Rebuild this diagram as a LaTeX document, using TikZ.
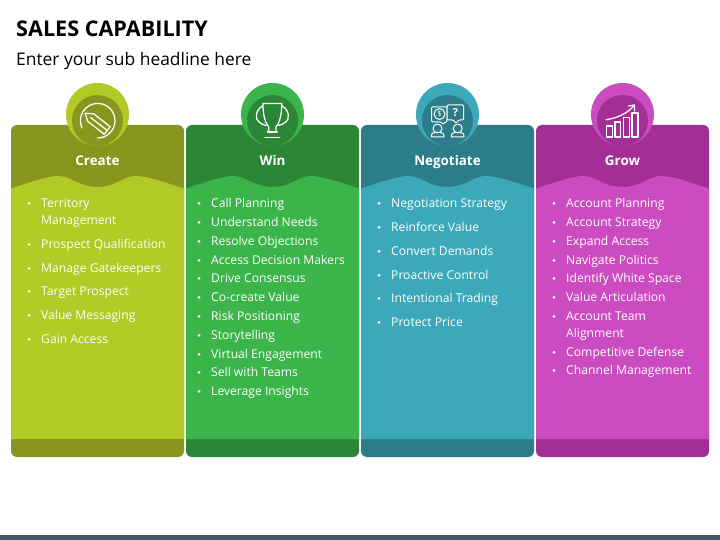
\documentclass[tikz,border=0pt]{standalone}
\usepackage{fontspec}
\setmainfont{Open Sans}
\definecolor{limeL}{HTML}{B2CA25}\definecolor{limeD}{HTML}{88961F}
\definecolor{greenL}{HTML}{3BB54A}\definecolor{greenD}{HTML}{2C8638}
\definecolor{tealL}{HTML}{3BA9BA}\definecolor{tealD}{HTML}{2D7C89}
\definecolor{magL}{HTML}{CB4BC0}\definecolor{magD}{HTML}{A32E96}
\definecolor{footbar}{HTML}{44546A}
\tikzset{
  itemtext/.style={anchor=base west,inner sep=0pt,text=white,font=\fontsize{12.15}{14}\selectfont},
  headtext/.style={anchor=base,inner sep=0pt,text=white,font=\fontsize{13.4}{16}\selectfont\bfseries},
  icon/.style={draw=white,line width=1.25pt,line join=round,line cap=round},
}
% #1 left x, #2 light, #3 dark, #4 heading, #5 name
\newcommand{\card}[5]{%
  \begin{scope}[xshift=#1pt]
    \begin{scope}
      \clip[rounded corners=6pt] (0,125) rectangle (173,457);
      \fill[#3] (-1,124) rectangle (175,458);
      \fill[#2] (-1,188.5) -- (0,188.5) .. controls (20,182) and (37,176) .. (47,176)
        .. controls (60,176) and (68,187) .. (86.5,187)
        .. controls (105,187) and (113,176) .. (124,176)
        .. controls (136,176) and (153,182) .. (173,188.5) -- (175,188.5) -- (175,439) -- (-1,439) -- cycle;
    \end{scope}
    \fill[#2] (86.5,114.5) circle[radius=31.5];
    \fill[#3] (86.5,120.5) circle[radius=25.5];
    \node[headtext] (#5head) at (86.5,166) {#4};
  \end{scope}}
\newcommand{\listitem}[4]{%
  \node[itemtext] at (#1+30,#2+.5) {#3};
  \ifnum#4=1 \fill[white] (#1+18,#2-3.7) circle[radius=1.5];\fi}
\begin{document}
\begin{tikzpicture}[x=1pt,y=-1pt]
\useasboundingbox (0,0) rectangle (720,540);
\fill[white] (0,0) rectangle (720,540);
\fill[footbar] (0,534.5) rectangle (720,540);
\node[anchor=base west,inner sep=0pt,font=\fontsize{21.6}{26}\selectfont\bfseries] (title) at (16,37) {SALES CAPABILITY};
\node[anchor=base west,inner sep=0pt,font=\fontsize{17.4}{20}\selectfont] (sub) at (16,66) {Enter your sub headline here};

\card{11}{limeL}{limeD}{Create}{create}
\card{186}{greenL}{greenD}{Win}{win}
\card{361}{tealL}{tealD}{Negotiate}{neg}
\card{536}{magL}{magD}{Grow}{grow}

\foreach \yy/\tx/\bu in {207/Territory/1,224/Management/0,248/Prospect Qualification/1,272/Manage Gatekeepers/1,295/Target Prospect/1,319/Value Messaging/1,343/Gain Access/1}
  {\listitem{11}{\yy}{\tx}{\bu}}
\foreach \yy/\tx in {207/Call Planning,226/Understand Needs,245/Resolve Objections,264/Access Decision Makers,282/Drive Consensus,301/Co-create Value,320/Risk Positioning,339/Storytelling,358/Virtual Engagement,376/Sell with Teams,395/Leverage Insights}
  {\listitem{181}{\yy}{\tx}{1}}
\foreach \yy/\tx in {207/Negotiation Strategy,231/Reinforce Value,255/Convert Demands,279/Proactive Control,302/Intentional Trading,326/Protect Price}
  {\listitem{361}{\yy}{\tx}{1}}
\foreach \yy/\tx/\bu in {207/Account Planning/1,226/Account Strategy/1,245/Expand Access/1,264/Navigate Politics/1,282/Identify White Space/1,301/Value Articulation/1,320/Account Team/1,337/Alignment/0,356/Competitive Defense/1,374/Channel Management/1}
  {\listitem{536}{\yy}{\tx}{\bu}}

% Pencil icon
\draw[icon] (97.7,138) arc[start angle=90,end angle=-205,radius=17.3];
\begin{scope}[icon,shift={(97,122.5)},rotate=-38]
  \draw (-15,0) -- (-8,-4.8) -- (13,-4.8) -- (13,4.8) -- (-8,4.8) -- cycle;
  \draw (-8,0) -- (13,0);
\end{scope}

% Trophy icon
\begin{scope}[icon]
  \draw (263,103.5) -- (281.7,103.5) .. controls (282,115) and (279,124) .. (276,127) -- (276,132) (263,103.5) .. controls (262.7,115) and (265.7,124) .. (268.7,127) -- (268.7,132);
  \draw (262.5,106) .. controls (255,110) and (255,120) .. (259,122) .. controls (261,124) and (264,125) .. (266,125.5);
  \draw (282.2,106) .. controls (289.7,110) and (289.7,120) .. (285.7,122) .. controls (283.7,124) and (280.7,125) .. (278.7,125.5);
  \draw (267.5,132) -- (277.2,132);
  \draw[line width=1.5pt] (265,137.7) -- (279.7,137.7);
\end{scope}

% Negotiate icon
\begin{scope}[icon,line width=1pt]
  \draw[rounded corners=1pt] (431.5,107) -- (431.5,122) -- (441,122) -- (443,124.5) -- (445,122) -- (447,122) -- (447,107) -- cycle;
  \draw[fill=tealD,rounded corners=1pt] (447,105) -- (463.5,105) -- (463.5,120) -- (459,120) -- (456,123) -- (453,120) -- (447,120) -- cycle;
  \draw (439.5,114) circle[radius=5.5];
  \node[inner sep=0pt,text=white,font=\fontsize{7.5}{8}\selectfont] (dollar) at (439.5,114) {\$};
  \node[inner sep=0pt,text=white,font=\fontsize{11}{11}\selectfont\bfseries] (quest) at (455.5,112.5) {?};
  \draw (437.5,128.5) circle[radius=4.5];
  \draw (431.5,137) .. controls (431,133) and (433.5,132.5) .. (435,132.5) -- (440,132.5) .. controls (441.5,132.5) and (444.5,133) .. (444,137) -- cycle;
  \draw (457.7,128.5) circle[radius=4.5];
  \draw (451.5,137) .. controls (451,133) and (453.5,132.5) .. (455,132.5) -- (460,132.5) .. controls (461.5,132.5) and (464.5,133) .. (464,137) -- cycle;
\end{scope}

% Grow icon
\begin{scope}[icon]
  \draw (606.7,126) rectangle (612.5,137);
  \draw (615,122) rectangle (620.7,137);
  \draw (623.5,117.5) rectangle (629.5,137);
  \draw (632,113) rectangle (638,137);
  \draw (606,119.7) .. controls (618,118) and (628,113) .. (634,105.5);
  \draw (628.5,106) -- (634.5,105) -- (634.5,111);
\end{scope}
\end{tikzpicture}
\end{document}
